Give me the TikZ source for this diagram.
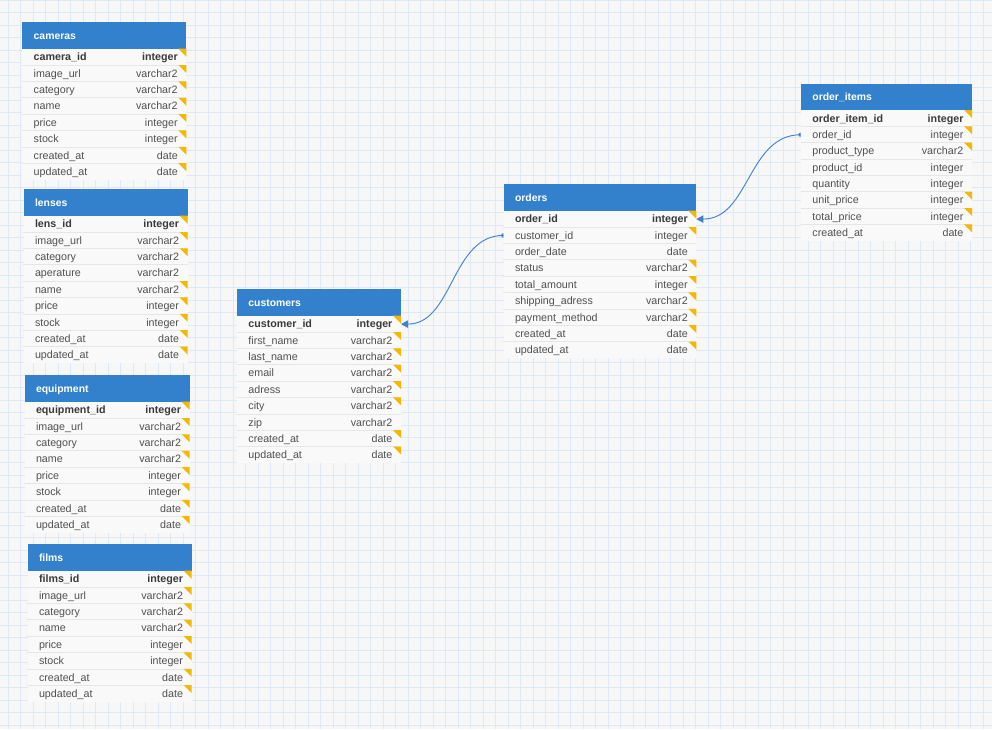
\documentclass[tikz,border=0pt]{standalone}
\usepackage{fontspec}
\setmainfont{Liberation Sans}
\usetikzlibrary{arrows.meta}
\definecolor{bg}{HTML}{F7F7F7}
\definecolor{gridminor}{HTML}{DFE8F7}
\definecolor{hdrblue}{HTML}{3381CC}
\definecolor{rowfill}{HTML}{F9F9F9}
\definecolor{sepgray}{HTML}{E6E6E6}
\definecolor{txtgray}{HTML}{505050}
\definecolor{txtdark}{HTML}{3A3A3A}
\definecolor{markyellow}{HTML}{F4B800}
\definecolor{connblue}{HTML}{3D7FD0}
\tikzset{
  hdrbox/.style={fill=hdrblue, draw=none, minimum height=26.7pt, inner sep=0pt, anchor=north west},
  hdrtext/.style={text=white, font=\fontsize{10.4}{12}\selectfont\bfseries, anchor=base west, inner sep=0pt},
  rowbox/.style={fill=rowfill, draw=none, minimum height=16.35pt, inner sep=0pt, anchor=north west},
  colname/.style={font=\fontsize{10.7}{12}\selectfont, anchor=base west, inner sep=0pt},
  coltype/.style={font=\fontsize{10.7}{12}\selectfont, anchor=base east, inner sep=0pt},
  sepline/.style={draw=sepgray, line width=0.6pt},
  pkmark/.style={fill=markyellow},
  conn/.style={draw=connblue, line width=0.9pt},
  gridline/.style={draw=gridminor, line width=0.8pt},
}
\newcommand{\erdtable}[6]{%
  \node[hdrbox, minimum width=#5pt] (#1) at (#3,#4) {};
  \node[hdrtext] (#1-title) at ([xshift=11.5pt, yshift=-17.3pt]#1.north west) {#2};
  \foreach [count=\ri] \fn/\ft/\fk in {#6} {
    \pgfmathsetmacro{\ry}{#4+26.7+(\ri-1)*16.35}
    \ifnum\ri=1 \def\rowfont{\bfseries}\def\rowcol{txtdark}\else\def\rowfont{}\def\rowcol{txtgray}\fi
    \node[rowbox, minimum width=#5pt] (#1-\ri) at (#3,\ry) {};
    \ifnum\ri>1 \draw[sepline] (#1-\ri.north west) -- (#1-\ri.north east);\fi
    \node[colname, text=\rowcol] (#1-\ri-n) at ([xshift=11.5pt, yshift=-12.2pt]#1-\ri.north west) {\rowfont\fn};
    \node[coltype, text=\rowcol] (#1-\ri-t) at ([xshift=-8.5pt, yshift=-12.2pt]#1-\ri.north east) {\rowfont\ft};
    \ifnum\fk=1 \fill[pkmark] ([xshift=-8pt]#1-\ri.north east) -- (#1-\ri.north east) -- ([yshift=-8pt]#1-\ri.north east) -- cycle;\fi
  }
}
\begin{document}
\begin{tikzpicture}[x=1pt, y=-1pt]
\useasboundingbox (0,0) rectangle (992,729);
\fill[bg] (0,0) rectangle (992,729);
\foreach \k in {0,...,79} {
  \pgfmathsetmacro{\gx}{8.3+12.5*\k}
  \draw[gridline] (\gx,0) -- (\gx,729);
}
\foreach \k in {0,...,58} {
  \pgfmathsetmacro{\gy}{12.5*\k}
  \draw[gridline] (0,\gy) -- (992,\gy);
}

\erdtable{cameras}{cameras}{22}{22}{164}{camera\_id/integer/1, image\_url/varchar2/1, category/varchar2/1, name/varchar2/1, price/integer/1, stock/integer/1, created\_at/date/1, updated\_at/date/1}
\erdtable{lenses}{lenses}{23.3}{189}{164}{lens\_id/integer/1, image\_url/varchar2/1, category/varchar2/1, aperature/varchar2/0, name/varchar2/1, price/integer/1, stock/integer/1, created\_at/date/1, updated\_at/date/1}
\erdtable{equipment}{equipment}{24.3}{375}{165}{equipment\_id/integer/1, image\_url/varchar2/1, category/varchar2/1, name/varchar2/1, price/integer/1, stock/integer/1, created\_at/date/1, updated\_at/date/1}
\erdtable{films}{films}{27.3}{544}{164}{films\_id/integer/1, image\_url/varchar2/1, category/varchar2/1, name/varchar2/1, price/integer/1, stock/integer/1, created\_at/date/1, updated\_at/date/1}
\erdtable{customers}{customers}{236.7}{289}{164}{customer\_id/integer/1, first\_name/varchar2/1, last\_name/varchar2/1, email/varchar2/1, adress/varchar2/1, city/varchar2/1, zip/varchar2/0, created\_at/date/1, updated\_at/date/1}
\erdtable{orders}{orders}{503.3}{184}{192.7}{order\_id/integer/1, customer\_id/integer/1, order\_date/date/0, status/varchar2/1, total\_amount/integer/1, shipping\_adress/varchar2/1, payment\_method/varchar2/1, created\_at/date/1, updated\_at/date/1}
\erdtable{orderitems}{order\_items}{800.7}{83.3}{171}{order\_item\_id/integer/1, order\_id/integer/1, product\_type/varchar2/1, product\_id/integer/0, quantity/integer/0, unit\_price/integer/1, total\_price/integer/1, created\_at/date/1}

\draw[conn, -{Triangle[length=7pt,width=7.5pt]}] (orders-2.west) .. controls +(-52pt,0pt) and +(52pt,0pt) .. (customers-1.east);
\fill[connblue] (orders-2.west) ++(0pt,2.2pt) arc[start angle=90, end angle=270, radius=2.2pt] -- cycle;
\draw[conn, -{Triangle[length=7pt,width=7.5pt]}] (orderitems-2.west) .. controls +(-53pt,0pt) and +(53pt,0pt) .. (orders-1.east);
\fill[connblue] (orderitems-2.west) ++(0pt,2.2pt) arc[start angle=90, end angle=270, radius=2.2pt] -- cycle;
\end{tikzpicture}
\end{document}
